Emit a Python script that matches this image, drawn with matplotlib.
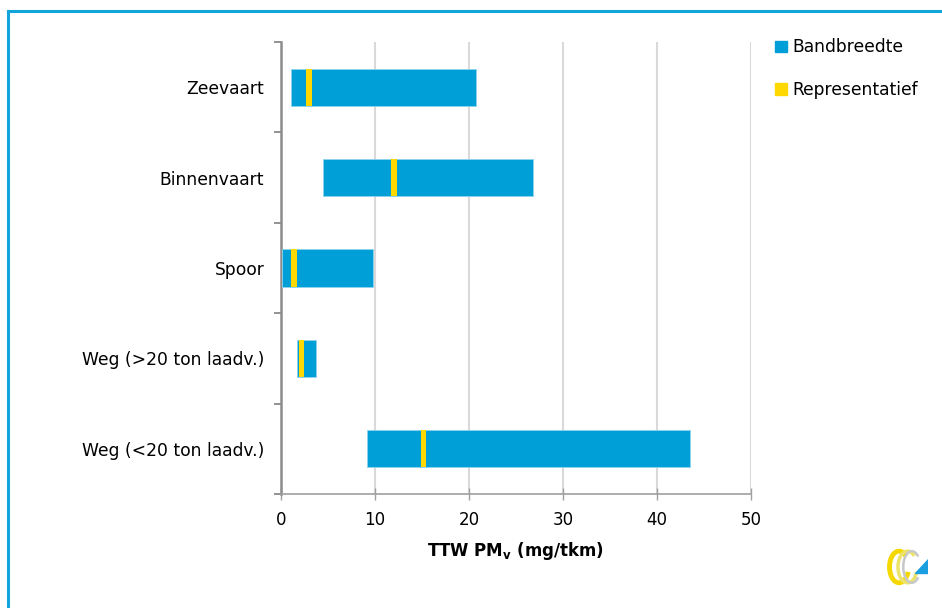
import matplotlib.pyplot as plt
from matplotlib.patches import Arc, Polygon
from matplotlib.lines import Line2D
from matplotlib.patches import Patch

categories = ["Zeevaart", "Binnenvaart", "Spoor", "Weg (>20 ton laadv.)", "Weg (<20 ton laadv.)"]
band_min = [1.1, 4.5, 0.15, 1.7, 9.2]
band_max = [20.8, 26.8, 9.75, 3.7, 43.55]
representatief = [3.0, 12.0, 1.4, 2.2, 15.15]
rep_width = 0.6

blue = "#009fd8"
yellow = "#ffd800"
frame_blue = "#12a5dc"

plt.rcParams["font.family"] = ["DejaVu Sans"]

fig = plt.figure(figsize=(9.42, 6.08), dpi=100)
ax = fig.add_axes([0.2983, 0.1875, 0.4987, 0.7434])

y = list(range(len(categories)))[::-1]
widths = [hi - lo for lo, hi in zip(band_min, band_max)]
ax.barh(y, widths, left=band_min, height=0.41, color=blue,
        edgecolor="#8fd3ef", linewidth=0.6, zorder=3)
ax.barh(y, [rep_width] * len(y), left=[r - rep_width / 2 for r in representatief],
        height=0.41, color=yellow, linewidth=0, zorder=4)

ax.set_xlim(0, 50)
ax.set_ylim(-0.5, 4.5)
ax.set_xticks([0, 10, 20, 30, 40, 50])
ax.set_yticks(y)
ax.set_yticklabels(categories, fontsize=12.3)
ax.set_yticks([k - 0.5 for k in range(6)], minor=True)
ax.tick_params(axis="y", which="major", length=0, pad=12)
ax.tick_params(axis="y", which="minor", length=5, width=1.2, color="#808080", direction="out")
ax.tick_params(axis="x", which="major", length=8, width=1, color="#a0a0a0",
               direction="inout", labelsize=12, pad=8)

ax.grid(axis="x", color="#d9d9d9", linewidth=1.5, zorder=0)
for side in ("top", "right"):
    ax.spines[side].set_visible(False)
ax.spines["left"].set_color("#8c8c8c")
ax.spines["left"].set_linewidth(1.8)
ax.spines["bottom"].set_color("#a0a0a0")
ax.spines["bottom"].set_linewidth(1.2)

ax.set_xlabel(r"TTW PM$_\mathregular{v}$ (mg/tkm)", fontsize=12, fontweight="bold", labelpad=8)

handles = [Patch(color=blue), Patch(color=yellow)]
fig.legend(handles, ["Bandbreedte", "Representatief"], loc="upper left",
           bbox_to_anchor=(0.806, 0.962), frameon=False, fontsize=12.3,
           handlelength=0.7, handleheight=0.7, handletextpad=0.35, labelspacing=1.45)

# outer frame (left and top edges)
fig.add_artist(Line2D([0.0085, 0.0085], [0.0, 0.982], color=frame_blue, lw=2.2,
                      transform=fig.transFigure))
fig.add_artist(Line2D([0.0085, 1.0], [0.982, 0.982], color=frame_blue, lw=2.2,
                      transform=fig.transFigure))

# small logo bottom right
logo = fig.add_axes([0.94, 0.035, 0.045, 0.065])
logo.set_xlim(0, 10)
logo.set_ylim(0, 10)
logo.axis("off")
logo.add_patch(Arc((3.2, 5), 4.5, 8, theta1=60, theta2=330, color="#f5d800", lw=3.5))
logo.add_patch(Arc((5.2, 5), 4.5, 8, theta1=60, theta2=330, color="#ece46a", lw=2.5))
logo.add_patch(Arc((6.2, 5), 4.0, 8, theta1=60, theta2=300, color="#c8c8c8", lw=1.8))
logo.add_patch(Polygon([[7, 3.5], [10, 3.5], [10, 7]], closed=True, color="#1a9ee0"))

fig.savefig("out.png", dpi=100)
